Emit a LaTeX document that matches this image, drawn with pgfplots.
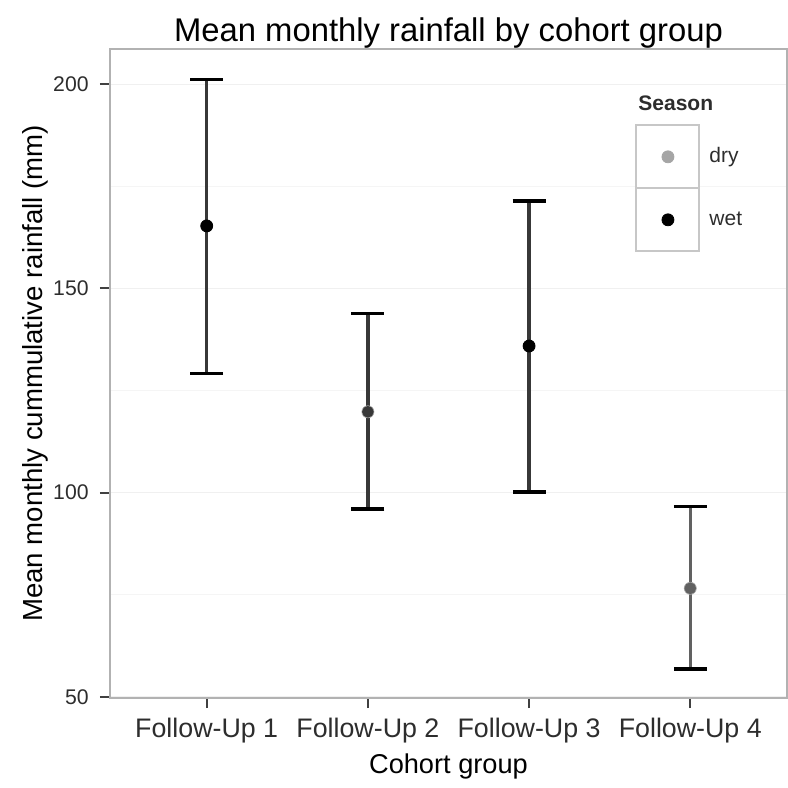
\documentclass[border=0pt]{standalone}
\usepackage{fontspec}
\setmainfont{Liberation Sans}
\usepackage{pgfplots}
\pgfplotsset{compat=1.18}

\definecolor{drygray}{RGB}{165,165,165}
\definecolor{txtgray}{RGB}{45,45,45}

\begin{document}
\begin{tikzpicture}
\begin{axis}[
    name=ax,
    scale only axis,
    width=338.5pt, height=324.5pt,
    xmin=-0.6, xmax=3.6,
    ymin=49.75, ymax=208.6,
    xtick={0,1,2,3},
    xticklabels={Follow-Up 1,Follow-Up 2,Follow-Up 3,Follow-Up 4},
    ytick={50,100,150,200},
    minor ytick={75,125,175},
    ymajorgrids, yminorgrids,
    major grid style={black!6, line width=0.6pt},
    minor grid style={black!4, line width=0.6pt},
    axis line style={black!30, line width=1.2pt},
    tick align=outside,
    xtick pos=left, ytick pos=left,
    major tick length=5pt,
    minor tick length=0pt,
    tick style={black!75, line width=1pt},
    /pgf/number format/assume math mode=true,
    xticklabel style={font=\fontsize{13.4}{15}\selectfont, text=txtgray, inner sep=5pt},
    yticklabel style={font=\fontsize{10.6}{12}\selectfont, text=txtgray, inner sep=5.5pt},
    title={Mean monthly rainfall by cohort group},
    every axis title shift=0pt,
    title style={at={(axis description cs:0.5,1.0115)}, anchor=base, font=\fontsize{16.4}{19}\selectfont, inner sep=0pt},
    xlabel={Cohort group},
    xlabel style={at={(axis description cs:0.5,-0.117)}, anchor=base, font=\fontsize{13.6}{16}\selectfont, inner sep=0pt},
    ylabel={Mean monthly cummulative rainfall (mm)},
    ylabel style={at={(axis description cs:-0.1108,0.5)}, anchor=center, font=\fontsize{13.8}{16}\selectfont, inner sep=0pt},
    legend style={at={(axis description cs:0.7667,0.8907)}, anchor=north west,
        draw=none, fill=none, row sep=-1pt, column sep=4.5pt,
        nodes={inner sep=0pt, font=\fontsize{10.5}{12}\selectfont, text=txtgray}},
    legend cell align=left,
    legend image code/.code={
        \draw[black!22, line width=1pt, fill=white] (0pt,-15.75pt) rectangle (31.5pt,15.75pt);
        \fill (15.75pt,0pt) circle (3pt);
    },
]
% dry means (drawn beneath the bars)
\addplot[only marks, mark=*, mark size=3pt, color=drygray] coordinates {
    (1,119.8) (3,76.6)
};
\addlegendentry{dry}
% error bars, first three groups
\addplot[only marks, mark=none, forget plot, black!78, line width=1.7pt,
    error bars/.cd, y dir=both, y explicit,
    error bar style={black!78, line width=1.7pt},
    error mark options={black, line width=1.7pt, mark size=8.25pt, rotate=90}]
coordinates {
    (0,165.3) += (0,35.9) -= (0,36.1)
    (1,119.8) += (0,24.1) -= (0,23.8)
    (2,135.9) += (0,35.5) -= (0,35.7)
};
% error bar, last group (lighter line)
\addplot[only marks, mark=none, forget plot, black!62, line width=1.7pt,
    error bars/.cd, y dir=both, y explicit,
    error bar style={black!62, line width=1.7pt},
    error mark options={black, line width=1.7pt, mark size=8.25pt, rotate=90}]
coordinates {
    (3,76.6) += (0,20.0) -= (0,19.75)
};
% wet means
\addplot[only marks, mark=*, mark size=3pt, color=black] coordinates {
    (0,165.3) (2,135.9)
};
\addlegendentry{wet}
\node[anchor=base west, inner sep=0pt, font=\bfseries\fontsize{10.5}{12}\selectfont, text=txtgray]
    at (axis description cs:0.780,0.9045) {Season};
\end{axis}
\pgfresetboundingbox
\useasboundingbox ([xshift=-55pt,yshift=-45pt]ax.south west) rectangle ([xshift=0.5pt,yshift=24.5pt]ax.north east);
\end{tikzpicture}
\end{document}
